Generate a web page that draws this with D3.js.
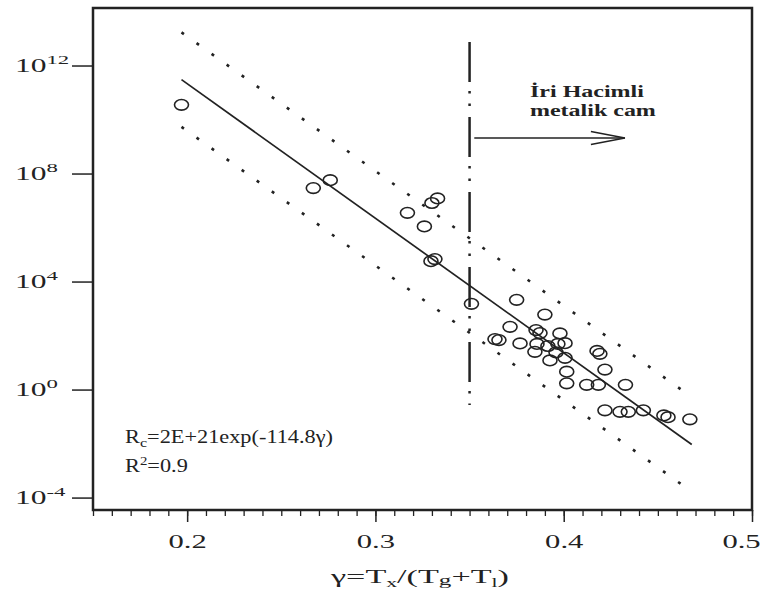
<!DOCTYPE html>
<html>
<head>
<meta charset="utf-8">
<script src="https://cdn.jsdelivr.net/npm/d3@7"></script>
<style>
  body { margin: 0; background: #fff; }
  svg text { font-family: "Liberation Serif", "Times New Roman", serif; fill: #222; }
</style>
</head>
<body>
<svg id="chart" width="764" height="592"></svg>
<script>
// gamma = Tx/(Tg+Tl) and critical cooling rate Rc (K/s)
var gamma = [0.197, 0.267, 0.276, 0.317, 0.326, 0.330, 0.333, 0.3295, 0.3316,
             0.351, 0.375, 0.390, 0.3715, 0.3635, 0.3656, 0.3768, 0.3853, 0.3874,
             0.398, 0.3858, 0.3916, 0.3969, 0.4007, 0.3847, 0.3927, 0.4007, 0.3959,
             0.4016, 0.4016, 0.4122, 0.4184, 0.4177, 0.4192, 0.4219, 0.4328,
             0.4219, 0.4299, 0.4343, 0.4423, 0.4532, 0.4554, 0.467];
var rc = [3.5e10, 2.9e7, 5.7e7, 3.5e6, 1.1e6, 8.1e6, 1.2e7, 5.7e4, 6.8e4,
          1.5e3, 2.1e3, 6.0e2, 2.1e2, 74, 68, 51, 160, 124,
          120, 49, 41, 49, 52, 25, 12, 15, 24,
          4.6, 1.7, 1.5, 1.5, 27, 21, 5.5, 1.5,
          0.17, 0.15, 0.15, 0.17, 0.11, 0.095, 0.079];

var yTickExp = [-4, 0, 4, 8, 12];
var xTickLabels = [0.2, 0.3, 0.4, 0.5];

// fit Rc = A exp(B*gamma) with a +/- band in decades
var fitA = 2e21, fitB = -114.8, fitR2 = 0.9;
var fitFrom = 0.197, fitTo = 0.468, bandDecades = 1.75;

// divider at gamma = 0.35 and the arrow pointing into the BMG region
var divider = 0.35, dividerTop = 7.4e12, dividerBottom = 0.27;
var arrowFrom = 0.3525, arrowTo = 0.4325, arrowAt = 2.05e9;

var ink = "#222";
var svg = d3.select("#chart");

var x = d3.scaleLinear().domain([0.15, 0.5]).range([93, 752]);
var y = d3.scaleLog().domain([Math.pow(10, -4.46), Math.pow(10, 14.13)]).range([510, 8]);

function stretched(px, py, sx) {
  return svg.append("text")
    .attr("transform", "translate(" + px + "," + py + ") scale(" + sx + ",1)");
}

// x axis: minor ticks every 0.01, major every 0.1
var minorX = d3.range(15, 51).map(function (d) { return d / 100; });
svg.append("g")
    .attr("transform", "translate(0," + y.range()[0] + ")")
    .call(d3.axisBottom(x).tickValues(minorX).tickSize(6).tickSizeOuter(0).tickFormat(""))
    .call(function (g) { g.select(".domain").remove(); g.selectAll("line").attr("stroke", ink).attr("stroke-width", 1.3); });

var xAx = svg.append("g")
    .attr("transform", "translate(0," + y.range()[0] + ")")
    .call(d3.axisBottom(x).tickValues(xTickLabels).tickSize(12).tickSizeOuter(0).tickFormat(d3.format(".1f")));
xAx.select(".domain").remove();
xAx.selectAll("line").attr("stroke", ink).attr("stroke-width", 1.5);
xAx.selectAll("text")
    .attr("y", 0).attr("dy", 0)
    .attr("transform", function (d, i) {
      // the last label is pulled in so it stays on the page
      var shift = i === xTickLabels.length - 1 ? -11 : 0;
      return "translate(" + shift + ",38) scale(1.7,1)";
    })
    .attr("font-size", 18)
    .attr("font-family", "Liberation Serif")
    .attr("fill", ink);

// y axis: ticks every 4 decades, labels left aligned
var yAx = svg.append("g")
    .attr("transform", "translate(" + x.range()[0] + ",0)")
    .call(d3.axisLeft(y).tickValues(yTickExp.map(function (e) { return Math.pow(10, e); }))
        .tickSize(21).tickSizeOuter(0).tickFormat(""));
yAx.select(".domain").remove();
yAx.selectAll("line").attr("stroke", ink).attr("stroke-width", 1.5);

yTickExp.forEach(function (e) {
  var t = stretched(15, y(Math.pow(10, e)) + 6, 1.75);
  t.append("tspan").attr("font-size", 18).text("10");
  t.append("tspan").attr("font-size", 13).attr("dy", -8).text(e);
});

// frame
svg.append("rect")
    .attr("x", x.range()[0]).attr("y", y.range()[1])
    .attr("width", x.range()[1] - x.range()[0])
    .attr("height", y.range()[0] - y.range()[1])
    .attr("fill", "none").attr("stroke", ink).attr("stroke-width", 2.5);

// fit line and band
function fit(g) { return fitA * Math.exp(fitB * g); }
var ends = [fitFrom, fitTo];
var line = d3.line()
    .x(function (d) { return x(d[0]); })
    .y(function (d) { return y(d[1]); });

svg.append("path")
    .datum(ends.map(function (g) { return [g, fit(g)]; }))
    .attr("d", line).attr("fill", "none").attr("stroke", ink).attr("stroke-width", 1.7);

[bandDecades, -bandDecades].forEach(function (k) {
  svg.append("path")
      .datum(ends.map(function (g) { return [g, fit(g) * Math.pow(10, k)]; }))
      .attr("d", line).attr("fill", "none").attr("stroke", ink)
      .attr("stroke-width", 2.6).attr("stroke-dasharray", "3,15.5");
});

// divider, dash-dot
svg.append("line")
    .attr("x1", x(divider)).attr("x2", x(divider))
    .attr("y1", y(dividerTop)).attr("y2", y(dividerBottom))
    .attr("stroke", ink).attr("stroke-width", 2.5)
    .attr("stroke-dasharray", "40,9,2.5,10,2.5,11");

// arrow
svg.append("line")
    .attr("x1", x(arrowFrom)).attr("x2", x(arrowTo))
    .attr("y1", y(arrowAt)).attr("y2", y(arrowAt))
    .attr("stroke", ink).attr("stroke-width", 1.5);
svg.append("path")
    .attr("d", "M" + (x(arrowTo) - 34) + "," + (y(arrowAt) - 6.5) +
               "L" + x(arrowTo) + "," + y(arrowAt) +
               "L" + (x(arrowTo) - 34) + "," + (y(arrowAt) + 6.5))
    .attr("fill", "none").attr("stroke", ink).attr("stroke-width", 1.5);

stretched(530, 97, 1.5).attr("font-size", 16).attr("font-weight", "bold").text("İri Hacimli");
stretched(530, 116, 1.5).attr("font-size", 16).attr("font-weight", "bold").text("metalik cam");

// data points
svg.append("g").selectAll("ellipse")
    .data(gamma.map(function (g, i) { return [g, rc[i]]; }))
    .join("ellipse")
    .attr("cx", function (d) { return x(d[0]); })
    .attr("cy", function (d) { return y(d[1]); })
    .attr("rx", 7).attr("ry", 5.3)
    .attr("fill", "none").attr("stroke", ink).attr("stroke-width", 1.6);

// equation
var eq = stretched(125, 443, 1.24).attr("font-size", 18);
eq.append("tspan").text("R");
eq.append("tspan").attr("font-size", 13).attr("dy", 4).text("c");
eq.append("tspan").attr("dy", -4).text("=2E+21exp(" + (fitB) + "γ)");
var r2 = stretched(125, 472, 1.24).attr("font-size", 18);
r2.append("tspan").text("R");
r2.append("tspan").attr("font-size", 12).attr("dy", -7).text("2");
r2.append("tspan").attr("dy", 7).text("=" + fitR2);

// x title
var xt = stretched(420, 583, 1.8).attr("font-size", 19).attr("text-anchor", "middle");
xt.append("tspan").text("γ=T");
xt.append("tspan").attr("font-size", 12).attr("dy", 4).text("x");
xt.append("tspan").attr("dy", -4).text("/(T");
xt.append("tspan").attr("font-size", 14).attr("dy", 2).text("g");
xt.append("tspan").attr("dy", -2).text("+T");
xt.append("tspan").attr("font-size", 12).attr("dy", 4).text("l");
xt.append("tspan").attr("dy", -4).text(")");
</script>
</body>
</html>
